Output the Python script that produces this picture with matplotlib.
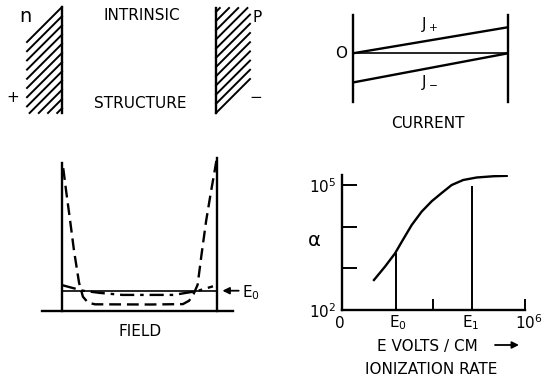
import matplotlib
matplotlib.use("Agg")
import matplotlib.pyplot as plt

W, H = 542, 377

# --- datos ---
# panel CURRENT: posicion en la region intrinseca (0..1) y corrientes
pos_corriente = [0.0, 1.0]
j_mas = [0.0, 1.0]
j_menos = [-1.12, 0.0]

# panel FIELD: campo en unidades de E0
x_campo = [0.008, 0.026, 0.052, 0.077, 0.11, 0.135, 0.168, 0.213, 0.568,
           0.78, 0.82, 0.85, 0.875, 0.90, 0.93, 0.96, 0.985, 0.997]
campo_dash = [7.13, 6.03, 4.53, 3.03, 1.4, 0.7, 0.40, 0.32, 0.31,
              0.33, 0.5, 0.85, 1.3, 2.8, 4.5, 5.9, 7.0, 7.55]
x_dashdot = [0.0, 0.135, 0.245, 0.39, 0.72, 0.87, 0.974]
campo_dashdot = [1.28, 1.0, 0.89, 0.79, 0.79, 0.98, 1.22]
e0_nivel = 1.0

# panel IONIZATION RATE: E (unidades de 1e5 V/cm) y alfa
e_campo = [1.76, 2.36, 2.91, 3.36, 3.82, 4.36, 4.91, 5.46, 6.00, 6.63,
           7.36, 8.27, 9.00]
log_alfa = [2.72, 3.04, 3.36, 3.70, 4.04, 4.36, 4.61, 4.81, 5.00, 5.12,
            5.18, 5.21, 5.22]
alfa = [10 ** v for v in log_alfa]
e_marcas = [2.95, 7.09]
alfa_marcas = [10 ** 3.36, 10 ** 4.97]

TXT = dict(fontsize=11, color="black", ha="center", va="center")
LW = 1.7


def panel(x0, y0, x1, y1):
    ax = fig.add_axes([x0 / W, 1 - y1 / H, (x1 - x0) / W, (y1 - y0) / H])
    ax.patch.set_alpha(0)
    return ax


def texto(x, y, s, **kw):
    opts = dict(TXT)
    opts.update(kw)
    fig.text(x / W, 1 - y / H, s, **opts)


fig = plt.figure(figsize=(W / 100, H / 100), dpi=100)

# ---------------- STRUCTURE ----------------
ax_s = panel(0, 0, 271, 140)
ax_s.set_xlim(0, 271)
ax_s.set_ylim(140, 0)
ax_s.axis("off")

paso = 9.2
# contacto n (izquierda)
ax_s.plot([62, 62], [7, 113], color="black", lw=LW)
c = 69.0
while c < 173:
    xa, xb = max(27, c - 113), min(62, c - 7)
    ax_s.plot([xa, xb], [c - xa, c - xb], color="black", lw=1.4)
    c += paso
# contacto p (derecha)
ax_s.plot([216, 216], [8, 113], color="black", lw=LW)
c = 329.0
while c > 227:
    xa, xb = 216, min(250, c - 8)
    ax_s.plot([xa, xb], [c - xa, c - xb], color="black", lw=1.4)
    c -= paso

texto(25, 17, "n", fontsize=14)
texto(13, 98, "+")
texto(257, 18, "P")
texto(256, 97, "\u2212")
texto(142, 16, "INTRINSIC")
texto(140, 103, "STRUCTURE")

# ---------------- CURRENT ----------------
ax_c = panel(353, 15, 508, 102)
ax_c.set_xlim(0, 1)
ax_c.set_ylim(-1.87, 1.47)
for lado in ["top", "bottom"]:
    ax_c.spines[lado].set_visible(False)
for lado in ["left", "right"]:
    ax_c.spines[lado].set_linewidth(LW)
ax_c.set_xticks([])
ax_c.set_yticks([])
ax_c.plot(pos_corriente, [0, 0], color="black", lw=1.2)
ax_c.plot(pos_corriente, j_mas, color="black", lw=LW)
ax_c.plot(pos_corriente, j_menos, color="black", lw=LW)
texto(341, 54, "O")
texto(430, 24, "J$_+$")
texto(430, 82, "J$_-$")
texto(428, 123, "CURRENT")

# ---------------- FIELD ----------------
ax_f = panel(62, 158, 217, 310.7)
ax_f.set_xlim(0, 1)
ax_f.set_ylim(0, 7.64)
for lado in ["top", "bottom"]:
    ax_f.spines[lado].set_visible(False)
for lado in ["left", "right"]:
    ax_f.spines[lado].set_linewidth(LW)
ax_f.spines["left"].set_bounds(0, 7.4)
ax_f.set_xticks([])
ax_f.set_yticks([])
ax_f.plot([-0.13, 1.10], [0, 0], color="black", lw=LW, clip_on=False)
ax_f.axhline(e0_nivel, color="black", lw=1.2)
ax_f.plot(x_campo, campo_dash, color="black", lw=LW, ls=(0, (5, 2.5)))
ax_f.plot(x_dashdot, campo_dashdot, color="black", lw=LW,
          ls=(0, (6, 2.5, 1.5, 2.5)))
ax_f.annotate("", xy=(1.035, e0_nivel), xytext=(1.14, e0_nivel),
              annotation_clip=False,
              arrowprops=dict(arrowstyle="-|>", color="black", lw=1.3,
                              mutation_scale=10, shrinkA=0, shrinkB=0))
texto(251, 293, "E$_0$")
texto(140, 331, "FIELD")

# ---------------- IONIZATION RATE ----------------
ax_a = panel(341.7, 175, 525, 310)
ax_a.set_yscale("log")
ax_a.set_xlim(0, 10)
ax_a.set_ylim(1e2, 10 ** 5.24)
for lado in ["top", "right"]:
    ax_a.spines[lado].set_visible(False)
for lado in ["left", "bottom"]:
    ax_a.spines[lado].set_linewidth(LW)
ax_a.plot(e_campo, alfa, color="black", lw=LW)
ax_a.vlines(e_marcas, 1e2, alfa_marcas, color="black", lw=1.4)
ax_a.set_yticks([1e2, 1e3, 1e4, 1e5])
ax_a.set_yticklabels(["10$^2$", "", "", "10$^5$"])
ax_a.minorticks_off()
ax_a.tick_params(axis="y", direction="in", length=11, width=1.4,
                 labelsize=11, pad=4)
ax_a.set_xticks([5, 10])
ax_a.set_xticklabels(["", ""])
ax_a.tick_params(axis="x", direction="in", length=8, width=1.4)
texto(340, 323, "0")
texto(398, 323, "E$_0$")
texto(471, 323, "E$_1$")
texto(529, 323, "10$^6$")
texto(314, 240, "\u03b1", fontsize=14)
texto(427, 347, "E VOLTS / CM")
ax_a.annotate("", xy=(519 / W, 1 - 345 / H), xytext=(495 / W, 1 - 345 / H),
              xycoords="figure fraction", textcoords="figure fraction",
              arrowprops=dict(arrowstyle="-|>", color="black", lw=1.3,
                              mutation_scale=10, shrinkA=0, shrinkB=0))
texto(431, 369, "IONIZATION RATE")

fig.savefig("out.png", dpi=100)
